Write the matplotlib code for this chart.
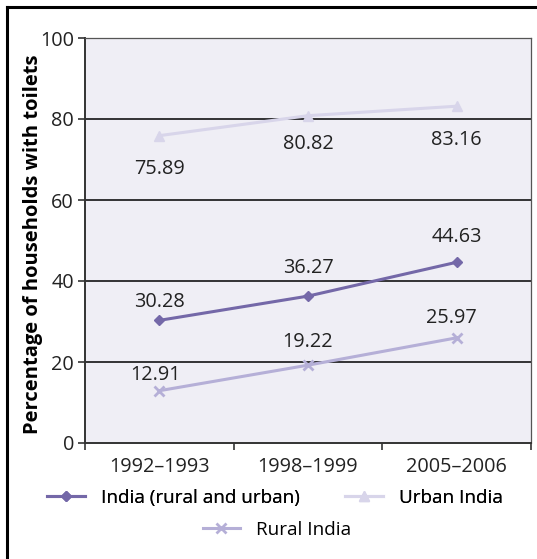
import matplotlib
matplotlib.use("Agg")
import matplotlib.pyplot as plt
from matplotlib.lines import Line2D

plt.rcParams['font.family'] = ['Open Sans', 'DejaVu Sans']

periods = ["1992–1993", "1998–1999", "2005–2006"]
india_total = [30.28, 36.27, 44.63]
urban_india = [75.89, 80.82, 83.16]
rural_india = [12.91, 19.22, 25.97]

c_total = "#7468A8"
c_urban = "#D8D5EA"
c_rural = "#B5AFD7"
fs = 14.3
leg_fs = 13.6

fig = plt.figure(figsize=(5.37, 5.59), dpi=100)
ax = fig.add_axes([85 / 537, 1 - 443 / 559, (531 - 85) / 537, (443 - 38) / 559])
ax.set_facecolor("#EFEEF5")

x = list(range(len(periods)))
ax.plot(x, india_total, color=c_total, lw=2.2, marker="D", ms=5, zorder=4)
ax.plot(x, urban_india, color=c_urban, lw=2.2, marker="^", ms=7.5, zorder=4)
ax.plot(x, rural_india, color=c_rural, lw=2.2, marker="x", ms=6.5, mew=2, zorder=4)


def label_series(values, offsets):
    for xi, v, (dx, dy) in zip(x, values, offsets):
        ax.annotate(f"{v:.2f}", (xi, v), xytext=(dx, dy), textcoords="offset pixels",
                    ha="center", va="center", fontsize=fs, color="#222222", zorder=5)


label_series(india_total, [(0, 18), (0, 28), (0, 25)])
label_series(rural_india, [(-4, 16), (0, 23), (-5, 20)])
label_series(urban_india, [(0, -33), (0, -28), (0, -34)])

ax.set_xlim(-0.5, len(periods) - 0.5)
ax.set_ylim(0, 100)
ax.set_yticks(range(0, 101, 20))
for gy in range(20, 100, 20):
    ax.axhline(gy, color="black", lw=1.1, zorder=2)

ax.set_xticks([i - 0.5 for i in range(len(periods) + 1)])
ax.set_xticklabels([])
ax.set_xticks(x, minor=True)
ax.set_xticklabels(periods, minor=True, fontsize=fs, color="#222222")
ax.tick_params(axis="x", which="minor", length=0, pad=10)
ax.tick_params(axis="x", which="major", length=5, width=1.2, direction="out", color="#333333")
ax.tick_params(axis="y", length=5, width=1.2, direction="out", color="#333333",
               labelsize=fs, labelcolor="#222222", pad=3)

for side in ["left", "bottom"]:
    ax.spines[side].set_color("#333333")
    ax.spines[side].set_linewidth(1.4)
for side in ["top", "right"]:
    ax.spines[side].set_color("#555555")
    ax.spines[side].set_linewidth(0.9)

ax.set_ylabel("Percentage of households with toilets", fontsize=14.5,
              fontweight="bold", color="black", labelpad=-2)
ax.yaxis.label.set_y(0.49)

handles = [
    Line2D([], [], color=c_total, lw=2.2, marker="D", ms=5),
    Line2D([], [], color=c_urban, lw=2.2, marker="^", ms=7.5),
    Line2D([], [], color=c_rural, lw=2.2, marker="x", ms=6.5, mew=2),
]
labels = ["India (rural and urban)", "Urban India", "Rural India"]
leg1 = fig.legend(handles[:2], labels[:2], loc="center", bbox_to_anchor=(275 / 537, 1 - 498 / 559),
                  ncol=2, frameon=False, fontsize=leg_fs, handlelength=2.0, columnspacing=2.4,
                  handletextpad=0.85, borderpad=0, borderaxespad=0)
fig.add_artist(leg1)
fig.legend(handles[2:], labels[2:], loc="center", bbox_to_anchor=(277 / 537, 1 - 530 / 559),
           frameon=False, fontsize=leg_fs, handlelength=2.0, handletextpad=0.85,
           borderpad=0, borderaxespad=0)

# outer frame on the left and top edges
fig.add_artist(Line2D([7 / 537, 7 / 537], [0, 1 - 7 / 559], transform=fig.transFigure,
                      color="black", lw=2.2))
fig.add_artist(Line2D([7 / 537, 1], [1 - 7 / 559, 1 - 7 / 559], transform=fig.transFigure,
                      color="black", lw=2.2))

fig.savefig("out.png", dpi=100)
